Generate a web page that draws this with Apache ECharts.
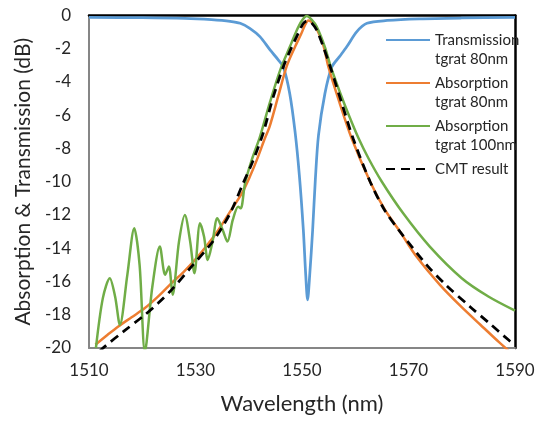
<!DOCTYPE html>
<html><head><meta charset="utf-8">
<script src="https://cdn.jsdelivr.net/npm/echarts@6/dist/echarts.min.js"></script>
<style>html,body{margin:0;padding:0;background:#fff}#c{width:549px;height:422px}</style>
</head><body><div id="c"></div>
<script>
// ---- data ----
const xTickValues = [1510, 1530, 1550, 1570, 1590];
const yTickValues = [0, -2, -4, -6, -8, -10, -12, -14, -16, -18, -20];

const seriesNames = ['Transmission tgrat 80nm', 'Absorption tgrat 80nm', 'Absorption tgrat 100nm', 'CMT result'];
const legendLines = [['Transmission', 'tgrat 80nm'], ['Absorption', 'tgrat 80nm'], ['Absorption', 'tgrat 100nm'], ['CMT result', '']];

const transWl = [1510, 1520, 1528, 1533, 1536.5, 1538.4, 1540.2, 1542.1, 1544, 1545.5, 1546.5, 1547.7, 1548.7, 1549.5, 1550.25, 1550.7, 1551.05, 1551.45, 1552.0, 1552.5, 1553.1, 1554.3, 1555.6, 1557, 1558.4, 1560.3, 1562.2, 1566, 1572, 1580, 1590];
const transDb = [-0.12, -0.13, -0.17, -0.25, -0.35, -0.47, -0.77, -1.27, -2.07, -2.65, -3.1, -4.7, -7.0, -9.6, -12.9, -15.6, -17.1, -15.6, -12.9, -9.9, -7.2, -4.7, -3.1, -2.49, -1.88, -0.97, -0.47, -0.3, -0.2, -0.15, -0.12];

const abs80Wl = [1511.2, 1513.5, 1515.5, 1518, 1520.5, 1523, 1525.5, 1527.7, 1529.9, 1532.1, 1534.3, 1536.5, 1538.7, 1540.2, 1541.5, 1543.05, 1543.9, 1545.5, 1547.1, 1548.6, 1549.9, 1550.6, 1551.2, 1551.9, 1552.75, 1554.0, 1554.95, 1557, 1559.3, 1562.8, 1565.5, 1568.4, 1571.5, 1575.9, 1579.7, 1583.5, 1587, 1590];
const abs80Db = [-19.8, -19.2, -18.7, -18.15, -17.6, -16.9, -16.1, -15.45, -14.7, -13.85, -12.9, -11.8, -10.7, -9.7, -8.7, -7.37, -6.7, -4.9, -3.08, -1.95, -1.07, -0.55, -0.3, -0.42, -0.8, -1.78, -3.08, -5.2, -7.37, -10.0, -11.65, -13.0, -14.5, -16.2, -17.45, -18.6, -19.65, -20.5];

const abs100Wl = [1511.3, 1512.6, 1513.9, 1514.9, 1515.8, 1517.2, 1518.5, 1519.5, 1520.5, 1521.9, 1523.3, 1524.3, 1525.0, 1525.7, 1526.9, 1528.0, 1529.0, 1529.8, 1530.85, 1531.6, 1532.3, 1533.2, 1534.1, 1535.1, 1536.0, 1537.0, 1538.0, 1538.5, 1539.3, 1540.55, 1542.1, 1544, 1546, 1547.7, 1549, 1550, 1550.9, 1551.8, 1552.75, 1554.3, 1555.4, 1557.1, 1558.8, 1560.6, 1562.5, 1565, 1569, 1574, 1580, 1585, 1590];
const abs100Db = [-20.0, -17.0, -15.8, -16.9, -18.6, -15.6, -12.8, -15.0, -20.2, -16.3, -13.9, -15.6, -15.1, -16.8, -13.6, -12.0, -13.6, -15.5, -12.5, -13.3, -14.7, -13.6, -12.2, -12.9, -13.6, -12.3, -11.5, -11.6, -10.1, -8.7, -7.3, -5.2, -3.2, -1.9, -0.9, -0.3, -0.03, -0.25, -0.67, -1.9, -3.08, -4.6, -6.0, -7.37, -8.6, -10.0, -11.9, -13.9, -15.8, -16.9, -17.75];

const cmtWl = [1512, 1513, 1516.5, 1520.5, 1523, 1525.5, 1529, 1533, 1535, 1536.8, 1538.8, 1540.85, 1542.4, 1543.05, 1544.5, 1546.5, 1548, 1549.3, 1550.2, 1550.9, 1551.6, 1552.75, 1554.0, 1555.3, 1557.4, 1559.6, 1562.8, 1565.5, 1568.4, 1573.4, 1577, 1581.5, 1585.5, 1588, 1590];
const cmtDb = [-20.2, -19.9, -19.0, -18.0, -17.3, -16.5, -15.2, -13.7, -12.75, -11.7, -10.2, -8.7, -7.37, -6.7, -5.0, -3.08, -1.95, -1.07, -0.5, -0.33, -0.38, -0.87, -1.88, -3.08, -5.2, -7.4, -10.0, -11.7, -13.0, -15.0, -16.2, -17.5, -18.6, -19.3, -19.85];

// ---- chart ----
const zip = (xs, ys) => xs.map((x, i) => [x, ys[i]]);
const textColor = '#262626';
const font = 'Lato';

const chart = echarts.init(document.getElementById('c'), null, {renderer: 'canvas'});
const legendMap = {};
seriesNames.forEach((n, i) => { legendMap[n] = '\n' + legendLines[i][0] + '\n' + legendLines[i][1]; });

chart.setOption({
  animation: false,
  backgroundColor: '#fff',
  grid: {left: 89, right: 34, top: 15.5, bottom: 74, containLabel: false},
  legend: {
    orient: 'vertical', left: 385, top: 11.5, padding: 0,
    itemWidth: 44, itemHeight: 14, itemGap: -14,
    data: seriesNames,
    formatter: n => legendMap[n],
    itemStyle: {opacity: 0},
    textStyle: {fontFamily: font, fontSize: 15, color: textColor, lineHeight: 19}
  },
  xAxis: [{
    type: 'value', min: xTickValues[0], max: xTickValues[xTickValues.length - 1], interval: 20,
    name: 'Wavelength (nm)', nameLocation: 'middle', nameGap: 45,
    nameTextStyle: {fontFamily: font, fontSize: 22, color: textColor},
    axisLine: {show: true, onZero: false, lineStyle: {color: '#868686', width: 2}},
    axisTick: {show: false},
    axisLabel: {fontFamily: font, fontSize: 17, color: textColor, margin: 14, formatter: v => String(v)},
    splitLine: {show: false}
  }, {
    type: 'value', position: 'top', min: xTickValues[0], max: xTickValues[xTickValues.length - 1],
    axisLine: {show: true, onZero: false, lineStyle: {color: '#000', width: 2.5}},
    axisTick: {show: false}, axisLabel: {show: false}, splitLine: {show: false}
  }],
  yAxis: [{
    type: 'value', min: yTickValues[yTickValues.length - 1], max: yTickValues[0], interval: 2,
    name: 'Absorption & Transmission (dB)', nameLocation: 'middle', nameGap: 50,
    nameTextStyle: {fontFamily: font, fontSize: 21, color: textColor},
    axisLine: {show: true, onZero: false, lineStyle: {color: '#868686', width: 2}},
    axisTick: {show: false},
    axisLabel: {fontFamily: font, fontSize: 17, color: textColor, margin: 18, formatter: v => String(v)},
    splitLine: {show: false}
  }, {
    type: 'value', position: 'right', min: yTickValues[yTickValues.length - 1], max: yTickValues[0],
    axisLine: {show: true, onZero: false, lineStyle: {color: '#000', width: 2.5}},
    axisTick: {show: false}, axisLabel: {show: false}, splitLine: {show: false}
  }],
  series: [
    {name: seriesNames[0], type: 'line', data: zip(transWl, transDb), smooth: 0.3, symbol: 'none',
     lineStyle: {color: '#5B9BD5', width: 2.75}, itemStyle: {color: '#5B9BD5'}},
    {name: seriesNames[1], type: 'line', data: zip(abs80Wl, abs80Db), smooth: 0.3, symbol: 'none',
     lineStyle: {color: '#ED7D31', width: 2.5}, itemStyle: {color: '#ED7D31'}},
    {name: seriesNames[2], type: 'line', data: zip(abs100Wl, abs100Db), smooth: 0.3, symbol: 'none',
     lineStyle: {color: '#70AD47', width: 2.5}, itemStyle: {color: '#70AD47'}},
    {name: seriesNames[3], type: 'line', data: zip(cmtWl, cmtDb), smooth: 0.3, symbol: 'none',
     lineStyle: {color: '#000', width: 2.75, type: [9, 6]}, itemStyle: {color: '#000'}}
  ]
});
</script></body></html>
